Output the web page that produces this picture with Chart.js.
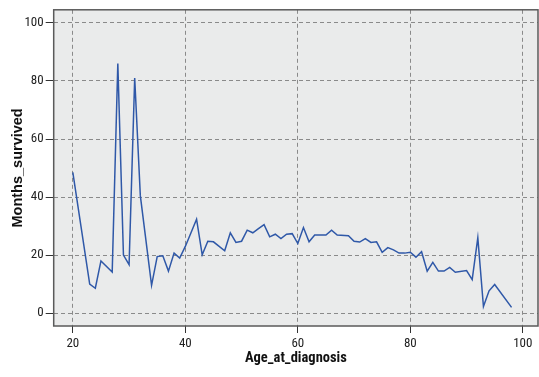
<!DOCTYPE html>
<html lang="en">
<head>
  <meta charset="UTF-8">
  <title>Months survived by age at diagnosis</title>
  <script src="https://cdn.jsdelivr.net/npm/chart.js"></script>
  <style>
    html, body {
      margin: 0;
      padding: 0;
      background: #fff;
    }
    #myChart {
      display: block;
    }
  </style>
</head>
<body>
<canvas id="myChart" width="539" height="377"></canvas>

<script>
  // ages (only the vertices of the line)
  const ages = [20, 23, 24, 25, 27, 28, 29, 30, 31, 32, 34, 35, 36, 37, 38, 39, 40, 42, 43, 44,
    45, 47, 48, 49, 50, 51, 52, 53, 54, 55, 56, 57, 58, 59, 60, 61, 62, 63, 65, 66,
    67, 69, 70, 71, 72, 73, 74, 75, 76, 77, 78, 79, 80, 81, 82, 83, 84, 85, 86, 87,
    88, 90, 91, 92, 93, 94, 95, 98];
  const monthsSurvived = [48.5, 10, 8.6, 18, 14.2, 86, 20, 16.7, 81, 40.5, 9.6, 19.5, 19.8, 14.5, 20.7, 19, 23, 32.4, 20.1, 24.8,
    24.6, 21.5, 27.7, 24.4, 24.8, 28.6, 27.7, 29.1, 30.5, 26.3, 27.2, 25.7, 27.2, 27.4, 24, 29.5, 24.6, 26.9, 26.9, 28.6,
    26.9, 26.7, 24.8, 24.5, 25.7, 24.4, 24.6, 21, 22.6, 21.8, 20.7, 20.7, 21, 19.3, 21.2, 14.5, 17.5, 14.5, 14.5, 15.8,
    14.1, 14.7, 11.6, 26, 2.3, 7.7, 9.9, 2.0];
  const xTicks = [20, 40, 60, 80, 100];
  const yTicks = [0, 20, 40, 60, 80, 100];

  const points = ages.map((a, i) => ({x: a, y: monthsSurvived[i]}));

  // the reference text is narrow, Roboto Condensed is the closest installed face
  const tickFont = {family: "'Roboto Condensed', 'Liberation Sans', Arial, sans-serif", size: 13};
  const xTitleFont = {family: "'Roboto Condensed', 'Liberation Sans', Arial, sans-serif", size: 14.5, weight: 'bold'};
  const yTitleFont = {family: "'Liberation Sans', Arial, sans-serif", size: 14.5, weight: 'bold'};

  // grey plot background + frame
  const plotFrame = {
    id: 'plotFrame',
    beforeDraw(chart) {
      const a = chart.chartArea;
      const c = chart.ctx;
      c.save();
      c.fillStyle = '#eaebeb';
      c.fillRect(a.left, a.top, a.right - a.left, a.bottom - a.top);
      c.restore();
    },
    afterDraw(chart) {
      const a = chart.chartArea;
      const c = chart.ctx;
      c.save();
      c.strokeStyle = '#5a5a5a';
      c.lineWidth = 1.5;
      c.strokeRect(a.left, a.top, a.right - a.left, a.bottom - a.top);
      c.restore();
    }
  };

  const ctx = document.getElementById('myChart').getContext('2d');
  const myChart = new Chart(ctx, {
    type: 'line',
    data: {
      datasets: [{
        data: points,
        borderColor: '#2f58a8',
        borderWidth: 1.5,
        pointRadius: 0,
        tension: 0,
        fill: false
      }]
    },
    options: {
      responsive: false,
      animation: false,
      layout: {padding: {top: 4, right: 1, left: 0, bottom: 0}},
      plugins: {
        legend: {display: false},
        tooltip: {enabled: false}
      },
      scales: {
        x: {
          type: 'linear',
          min: 16.6,
          max: 102.7,
          afterBuildTicks: s => { s.ticks = xTicks.map(v => ({value: v})); },
          afterFit: s => { s.height = 51; },
          ticks: {color: '#222', font: tickFont, padding: 3, maxRotation: 0},
          grid: {color: '#8a8a8a', lineWidth: 1, tickColor: '#333', tickLength: 7, tickBorderDash: []},
          border: {display: false, dash: [4, 3]},
          title: {display: true, text: 'Age_at_diagnosis', color: '#111', font: xTitleFont, padding: {top: 0, bottom: 10}}
        },
        y: {
          min: -4.4,
          max: 104.5,
          afterBuildTicks: s => { s.ticks = yTicks.map(v => ({value: v})); },
          afterFit: s => { s.width = 53.7; },
          ticks: {color: '#222', font: tickFont, padding: 2},
          grid: {color: '#8a8a8a', lineWidth: 1, tickColor: '#333', tickLength: 8, tickBorderDash: []},
          border: {display: false, dash: [4, 3]},
          title: {display: true, text: 'Months_survived', color: '#111', font: yTitleFont, padding: {top: 9, bottom: 0}}
        }
      }
    },
    plugins: [plotFrame]
  });
</script>
</body>
</html>
